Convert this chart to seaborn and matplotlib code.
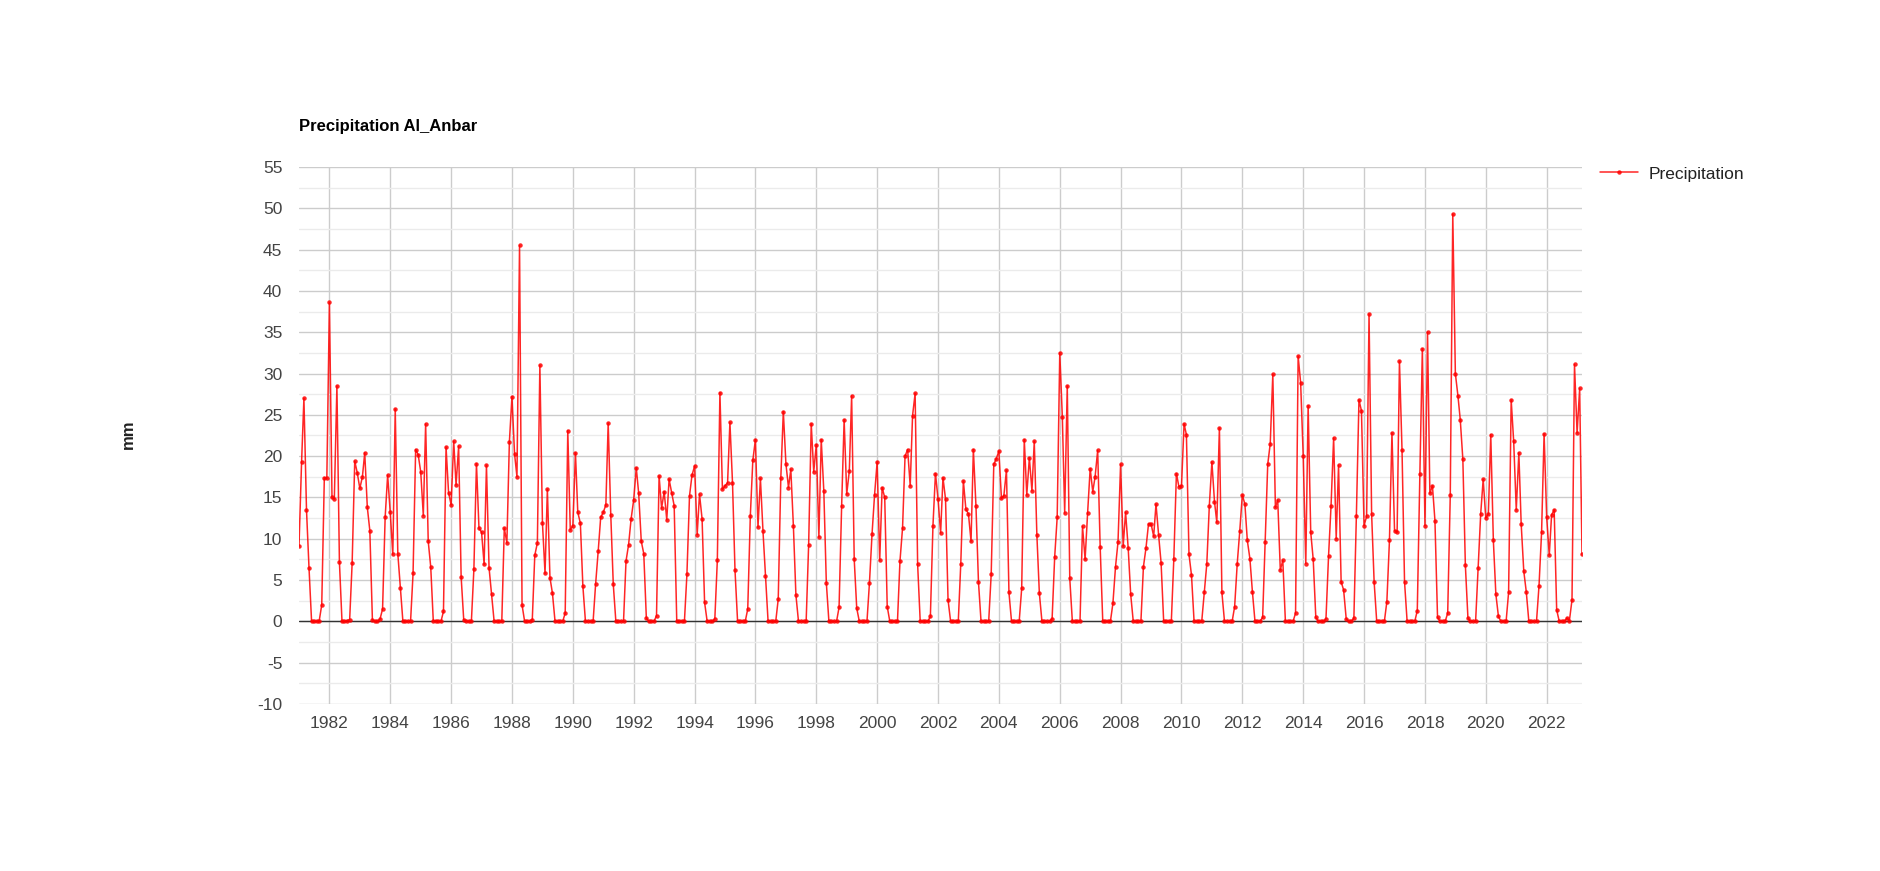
import pandas as pd
import numpy as np
import matplotlib.pyplot as plt
import seaborn as sns

# Monthly precipitation (mm), Jan 1981 .. Mar 2023, one row per year
precipitation = [
    9.1, 19.3, 27.0, 13.5, 6.5, 0.0, 0.0, 0.0, 0.1, 2.0, 17.4, 17.3,      # 1981
    38.6, 15.0, 14.8, 28.5, 7.2, 0.0, 0.0, 0.1, 0.2, 7.1, 19.4, 18.0,     # 1982
    16.1, 17.5, 20.4, 13.8, 11.0, 0.2, 0.0, 0.0, 0.3, 1.5, 12.6, 17.7,    # 1983
    13.2, 8.1, 25.7, 8.2, 4.1, 0.0, 0.0, 0.0, 0.0, 5.8, 20.8, 20.2,       # 1984
    18.1, 12.8, 23.9, 9.7, 6.6, 0.0, 0.1, 0.0, 0.0, 1.2, 21.1, 15.6,      # 1985
    14.1, 21.8, 16.5, 21.2, 5.4, 0.2, 0.0, 0.0, 0.0, 6.3, 19.1, 11.3,     # 1986
    10.8, 6.9, 18.9, 6.5, 3.3, 0.0, 0.0, 0.0, 0.0, 11.3, 9.5, 21.7,       # 1987
    27.2, 20.3, 17.5, 45.5, 2.0, 0.0, 0.0, 0.0, 0.2, 8.0, 9.5, 31.0,      # 1988
    11.9, 5.8, 16.0, 5.3, 3.4, 0.0, 0.0, 0.0, 0.0, 1.0, 23.1, 11.1,       # 1989
    11.6, 20.4, 13.2, 11.9, 4.3, 0.0, 0.0, 0.0, 0.0, 4.5, 8.5, 12.6,      # 1990
    13.2, 14.1, 24.0, 12.9, 4.5, 0.0, 0.0, 0.0, 0.0, 7.3, 9.3, 12.4,      # 1991
    14.7, 18.6, 15.5, 9.7, 8.2, 0.4, 0.0, 0.0, 0.0, 0.7, 17.6, 13.7,      # 1992
    15.7, 12.3, 17.2, 15.6, 14.0, 0.0, 0.0, 0.0, 0.0, 5.7, 15.2, 17.7,    # 1993
    18.8, 10.5, 15.4, 12.4, 2.3, 0.0, 0.0, 0.0, 0.3, 7.4, 27.7, 16.0,     # 1994
    16.4, 16.8, 24.1, 16.8, 6.2, 0.0, 0.0, 0.0, 0.0, 1.5, 12.8, 19.5,     # 1995
    22.0, 11.4, 17.3, 10.9, 5.5, 0.0, 0.0, 0.0, 0.0, 2.7, 17.4, 25.4,     # 1996
    19.1, 16.2, 18.4, 11.5, 3.2, 0.0, 0.0, 0.0, 0.0, 9.3, 23.9, 18.1,     # 1997
    21.4, 10.2, 22.0, 15.8, 4.7, 0.0, 0.0, 0.0, 0.0, 1.7, 14.0, 24.4,     # 1998
    15.4, 18.2, 27.3, 7.5, 1.6, 0.0, 0.0, 0.0, 0.0, 4.7, 10.6, 15.3,      # 1999
    19.3, 7.4, 16.2, 15.0, 1.8, 0.0, 0.0, 0.0, 0.0, 7.3, 11.3, 20.0,      # 2000
    20.8, 16.4, 24.9, 27.6, 6.9, 0.0, 0.0, 0.0, 0.0, 0.6, 11.6, 17.9,     # 2001
    14.8, 10.7, 17.4, 14.8, 2.6, 0.0, 0.0, 0.0, 0.0, 7.0, 17.0, 13.6,     # 2002
    13.0, 9.7, 20.8, 14.0, 4.8, 0.0, 0.0, 0.0, 0.0, 5.7, 19.0, 19.7,      # 2003
    20.6, 14.9, 15.2, 18.3, 3.5, 0.0, 0.0, 0.0, 0.0, 4.0, 22.0, 15.3,     # 2004
    19.8, 15.8, 21.8, 10.5, 3.4, 0.0, 0.0, 0.0, 0.0, 0.3, 7.8, 12.6,      # 2005
    32.5, 24.7, 13.1, 28.5, 5.2, 0.0, 0.0, 0.0, 0.0, 11.5, 7.5, 13.1,     # 2006
    18.5, 15.7, 17.5, 20.7, 9.0, 0.0, 0.0, 0.0, 0.0, 2.2, 6.6, 9.6,       # 2007
    19.0, 9.1, 13.2, 8.9, 3.3, 0.0, 0.0, 0.0, 0.0, 6.6, 8.9, 11.8,        # 2008
    11.8, 10.3, 14.2, 10.5, 7.1, 0.0, 0.0, 0.0, 0.0, 7.6, 17.9, 16.3,     # 2009
    16.4, 23.9, 22.6, 8.1, 5.6, 0.0, 0.0, 0.0, 0.0, 3.5, 7.0, 14.0,       # 2010
    19.3, 14.5, 12.0, 23.4, 3.5, 0.0, 0.0, 0.0, 0.0, 1.8, 7.0, 10.9,      # 2011
    15.3, 14.2, 9.8, 7.6, 3.6, 0.0, 0.0, 0.0, 0.5, 9.6, 19.0, 21.5,       # 2012
    29.9, 13.8, 14.7, 6.2, 7.4, 0.0, 0.0, 0.0, 0.0, 1.0, 32.1, 28.9,      # 2013
    20.0, 7.0, 26.1, 10.8, 7.5, 0.5, 0.0, 0.0, 0.0, 0.3, 7.9, 14.0,       # 2014
    22.2, 10.0, 18.9, 4.8, 3.8, 0.3, 0.0, 0.0, 0.4, 12.8, 26.8, 25.5,     # 2015
    11.6, 12.7, 37.2, 13.0, 4.8, 0.0, 0.0, 0.0, 0.0, 2.4, 9.8, 22.8,      # 2016
    11.0, 10.8, 31.5, 20.7, 4.8, 0.0, 0.0, 0.0, 0.0, 1.3, 17.8, 33.0,     # 2017
    11.6, 35.0, 15.5, 16.4, 12.2, 0.5, 0.0, 0.0, 0.0, 1.0, 15.3, 49.3,    # 2018
    30.0, 27.3, 24.4, 19.6, 6.8, 0.4, 0.0, 0.0, 0.0, 6.5, 13.0, 17.2,     # 2019
    12.5, 13.0, 22.6, 9.8, 3.3, 0.6, 0.0, 0.0, 0.0, 3.5, 26.8, 21.8,      # 2020
    13.5, 20.4, 11.8, 6.1, 3.6, 0.0, 0.0, 0.0, 0.0, 4.3, 10.8, 22.7,      # 2021
    12.6, 8.0, 12.9, 13.5, 1.4, 0.0, 0.0, 0.0, 0.4, 0.1, 2.6, 31.1,       # 2022
    22.8, 28.2, 8.1,                                                      # 2023
]
tick_years = list(range(1982, 2023, 2))
y_ticks = list(range(-10, 56, 5))

dates = pd.date_range('1981-01-01', periods=len(precipitation), freq='MS')
df = pd.DataFrame({'date': dates, 'Precipitation': precipitation})

sns.set_theme(style='white')
plt.rcParams['font.family'] = ['Liberation Sans', 'DejaVu Sans']
plt.rcParams['axes.unicode_minus'] = False  # plain hyphen like the original

W, H = 1880, 871
fig = plt.figure(figsize=(W / 100, H / 100), dpi=100)
ax = fig.add_axes([299 / W, 1 - 704 / H, (1582 - 299) / W, (704 - 167) / H])

sns.lineplot(data=df, x='date', y='Precipitation', ax=ax, color='#ff0000',
             linewidth=1.1, alpha=0.85, marker='o', markersize=3.2,
             markeredgewidth=0, label='Precipitation')

ax.set_xlim(dates[0], dates[-1])
ax.set_ylim(-10, 55)
ax.set_yticks(y_ticks)
ax.set_yticks(np.arange(-7.5, 55, 5), minor=True)
ax.set_xticks([pd.Timestamp(f'{y}-01-01') for y in tick_years])
ax.set_xticklabels([str(y) for y in tick_years])

ax.grid(which='major', axis='both', color='#cccccc', linewidth=1)
ax.grid(which='minor', axis='y', color='#ebebeb', linewidth=1)
ax.set_axisbelow(True)
ax.axhline(0, color='#333333', linewidth=1, zorder=1.5)
for s in ax.spines.values():
    s.set_visible(False)

ax.tick_params(axis='both', which='both', length=0, labelsize=12.5, labelcolor='#444444')
ax.tick_params(axis='y', pad=12)
ax.tick_params(axis='x', pad=9)
ax.set_xlabel('')
ax.set_ylabel('')

fig.text(299 / W, 1 - 127 / H, 'Precipitation Al_Anbar', fontsize=12, fontweight='bold',
         color='#000000', ha='left', va='center')
fig.text(128 / W, 1 - 434 / H, 'mm', fontsize=12, fontweight='bold', color='#222222',
         rotation=90, ha='center', va='center')

ax.legend(loc='center left', bbox_to_anchor=(1584 / W, 1 - 174 / H),
          bbox_transform=fig.transFigure, frameon=False, fontsize=12.5,
          handlelength=2.2, handletextpad=0.6, labelcolor='#222222')

fig.savefig('out.png', dpi=100)
